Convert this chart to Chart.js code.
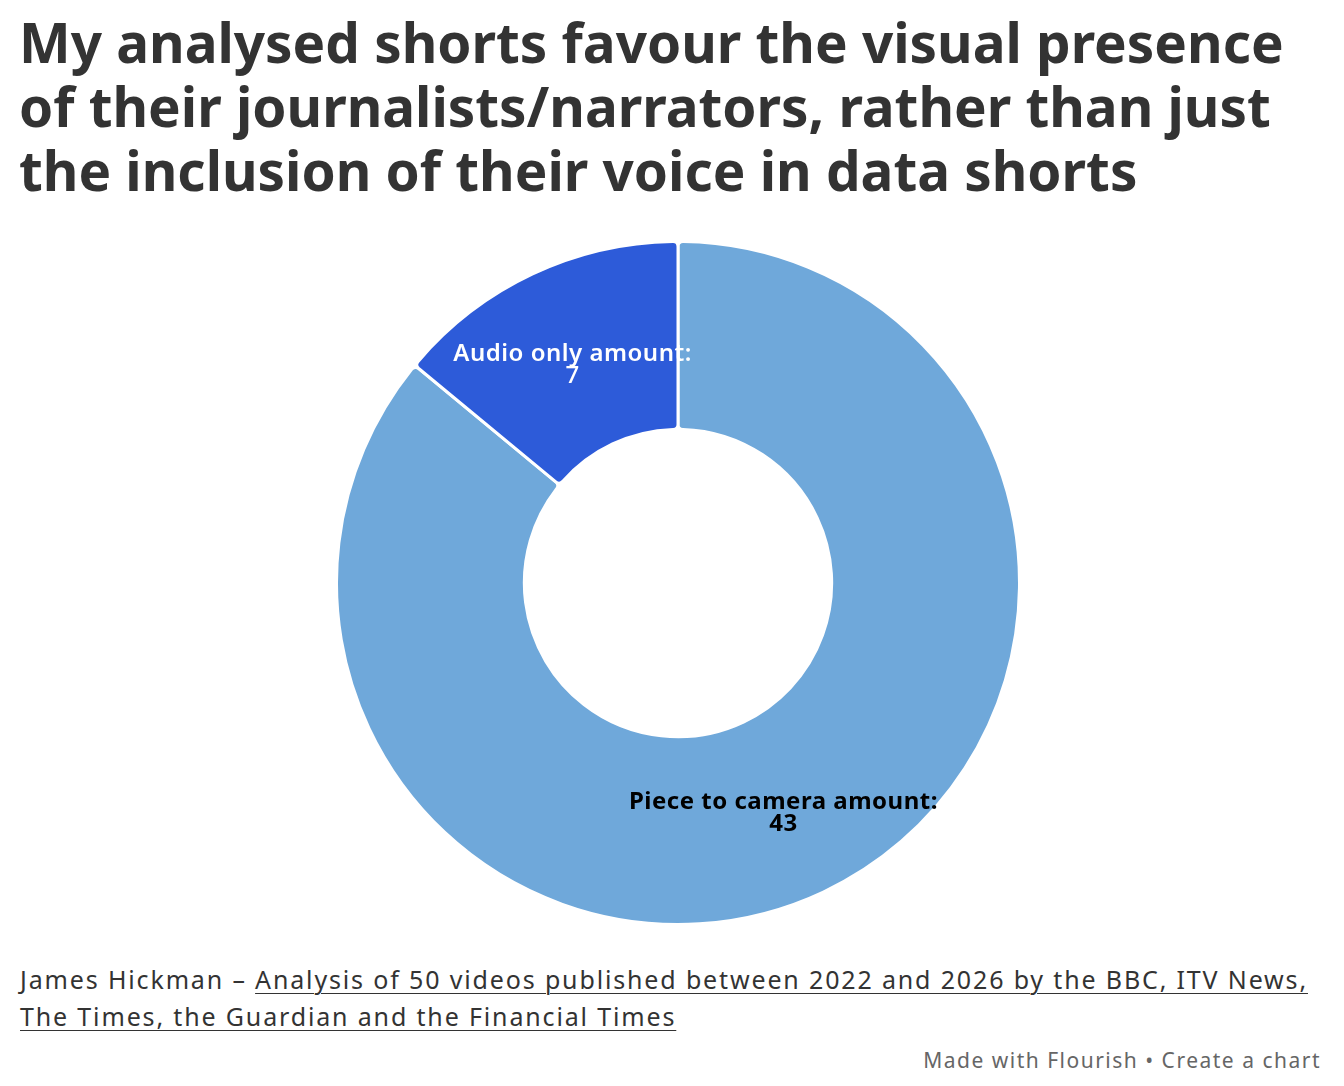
<!DOCTYPE html>
<html>

<head>
  <meta charset="utf-8">
  <title>Piece to camera vs audio only</title>
  <script src="https://cdn.jsdelivr.net/npm/chart.js@4.4.1/dist/chart.umd.min.js"></script>
  <style>
    html, body { margin: 0; padding: 0; background: #fff; }
    body { width: 1344px; height: 1086px; position: relative; overflow: hidden; font-family: "Noto Sans", sans-serif; }
    h1 {
      position: absolute; left: 19px; top: 10px; margin: 0;
      font-size: 54.8px; line-height: 64px; font-weight: 700; color: #333;
      white-space: nowrap;
    }
    #wrap { position: absolute; left: 12px; top: 240px; width: 1332px; height: 686px; }
    .source {
      position: absolute; left: 20px; top: 961px; font-size: 25px; line-height: 37px; color: #333;
      white-space: nowrap; letter-spacing: 1.85px;
    }
    .source a { color: #333; text-decoration: underline; text-underline-offset: 4px; text-decoration-thickness: 1px; }
    .credit { position: absolute; right: 23px; top: 1046px; font-size: 21px; color: #666; white-space: nowrap; letter-spacing: 1.5px; }
  </style>
</head>

<body>
  <h1>My analysed shorts favour the visual presence<br>of their journalists/narrators, rather than just<br>the inclusion of their voice in data shorts</h1>
  <div id="wrap"><canvas id="donut"></canvas></div>
  <div class="source">James Hickman – <a>Analysis of 50 videos published between 2022 and 2026 by the BBC, ITV News,</a><br><a>The Times, the Guardian and the Financial Times</a></div>
  <div class="credit">Made with Flourish • Create a chart</div>

  <script>
    const labels = ['Piece to camera amount', 'Audio only amount'];
    const amounts = [43, 7];
    const sliceColors = ['#6fa8da', '#2d5bd9'];
    const labelColors = ['#000000', '#ffffff'];

    // draws "Label:" and the value at the middle of each slice
    const sliceLabels = {
      id: 'sliceLabels',
      afterDatasetsDraw(chart) {
        const ctx = chart.ctx;
        const meta = chart.getDatasetMeta(0);
        ctx.save();
        ctx.textAlign = 'center';
        ctx.textBaseline = 'middle';
        ctx.letterSpacing = '0.5px';
        meta.data.forEach((arc, i) => {
          const p = arc.getCenterPoint();
          ctx.fillStyle = labelColors[i];
          ctx.font = (i === 0 ? '700 ' : '600 ') + '24px "Noto Sans", sans-serif';
          ctx.fillText(labels[i] + ':', p.x, p.y - 5);
          ctx.font = (i === 0 ? '700 ' : '500 ') + '24px "Noto Sans", sans-serif';
          ctx.fillText(String(amounts[i]), p.x, p.y + 17);
        });
        ctx.restore();
      }
    };

    new Chart(document.getElementById('donut'), {
      type: 'doughnut',
      data: {
        labels: labels,
        datasets: [{
          data: amounts,
          backgroundColor: sliceColors,
          borderColor: '#ffffff',
          borderWidth: 3,
          borderRadius: 5
        }]
      },
      options: {
        responsive: true,
        maintainAspectRatio: false,
        animation: false,
        cutout: '45%',
        layout: { padding: 0 },
        plugins: {
          legend: { display: false },
          tooltip: { enabled: false }
        }
      },
      plugins: [sliceLabels]
    });
  </script>
</body>

</html>
